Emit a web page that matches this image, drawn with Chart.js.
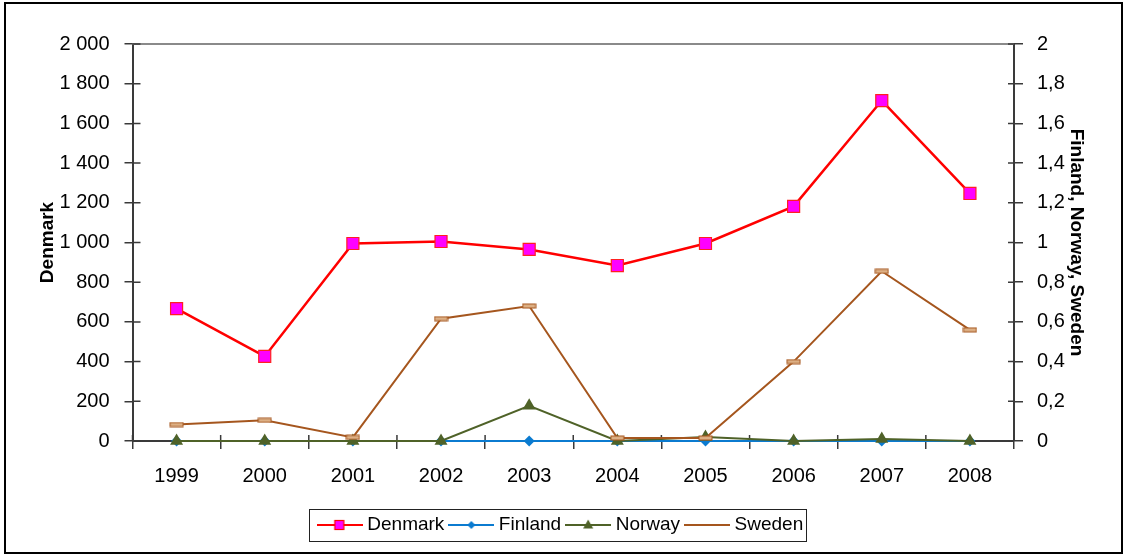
<!DOCTYPE html>
<html>
<head>
<meta charset="utf-8">
<script src="https://cdn.jsdelivr.net/npm/chart.js@4.4.1/dist/chart.umd.min.js"></script>
<style>
  body { margin: 0; background: #fff; }
  #wrap { width: 1125px; height: 557px; }
</style>
</head>
<body>
<div id="wrap"><canvas id="myChart" width="1125" height="557"></canvas></div>
<script>
// values
var years = ['1999', '2000', '2001', '2002', '2003', '2004', '2005', '2006', '2007', '2008'];
var denmark = [667, 426, 995, 1005, 965, 884, 995, 1182, 1715, 1247];
var finland = [0, 0, 0, 0, 0, 0, 0, 0, 0, 0];
var norway = [0, 0, 0, 0, 0.177, 0, 0.02, 0, 0.01, 0];
var sweden = [0.083, 0.104, 0.018, 0.616, 0.68, 0.015, 0.015, 0.40, 0.855, 0.56];

var seriesNames = ['Denmark', 'Finland', 'Norway', 'Sweden'];
var seriesColors = ['#FF0000', '#0B7BD0', '#4F6228', '#A5561E'];

var axisColor = '#3a3a3a';
var tickFont = { family: 'Liberation Sans, Arial, sans-serif', size: 20 };
var titleFont = { family: 'Liberation Sans, Arial, sans-serif', size: 19, weight: 'bold' };

// small flat marker used for Sweden
function swedenMarker() {
  var c = document.createElement('canvas');
  c.width = 15; c.height = 6;
  var g = c.getContext('2d');
  g.fillStyle = '#DDB085';
  g.fillRect(1, 1, 13, 4);
  g.strokeStyle = '#A5561E';
  g.lineWidth = 1;
  g.strokeRect(1, 1, 13, 4);
  return c;
}

// legend sample: line with its marker
function legendSample(i) {
  var c = document.createElement('canvas');
  c.width = 46; c.height = 16;
  var g = c.getContext('2d');
  g.strokeStyle = seriesColors[i];
  g.lineWidth = 2;
  g.beginPath(); g.moveTo(0, 8); g.lineTo(46, 8); g.stroke();
  if (i == 0) {
    g.fillStyle = '#FF00FF';
    g.fillRect(18, 3.5, 9, 9);
    g.lineWidth = 1.2;
    g.strokeRect(18, 3.5, 9, 9);
  } else if (i == 1) {
    g.fillStyle = seriesColors[1];
    g.beginPath(); g.moveTo(23, 4); g.lineTo(27, 8); g.lineTo(23, 12); g.lineTo(19, 8); g.closePath(); g.fill();
  } else if (i == 2) {
    g.fillStyle = seriesColors[2];
    g.beginPath(); g.moveTo(23, 2.5); g.lineTo(28, 11.5); g.lineTo(18, 11.5); g.closePath(); g.fill();
  }
  return c;
}

var samples = [legendSample(0), legendSample(1), legendSample(2), legendSample(3)];

var axisExtras = {
  id: 'axisExtras',
  beforeDatasetsDraw: function(chart) {
    var ctx = chart.ctx, a = chart.chartArea;
    ctx.save();
    // grey top edge of the plot area
    ctx.strokeStyle = '#8a8a8a';
    ctx.lineWidth = 2;
    ctx.beginPath(); ctx.moveTo(a.left, a.top); ctx.lineTo(a.right, a.top); ctx.stroke();
    // tick marks crossing into the plot
    ctx.strokeStyle = axisColor;
    ctx.lineWidth = 1.5;
    ctx.beginPath();
    chart.scales.y.ticks.forEach(function(t) {
      var py = chart.scales.y.getPixelForValue(t.value);
      ctx.moveTo(a.left, py); ctx.lineTo(a.left + 8, py);
    });
    chart.scales.y1.ticks.forEach(function(t) {
      var py = chart.scales.y1.getPixelForValue(t.value);
      ctx.moveTo(a.right - 6, py); ctx.lineTo(a.right, py);
    });
    var step = (a.right - a.left) / years.length;
    for (var i = 0; i <= years.length; i++) {
      var px = a.left + i * step;
      ctx.moveTo(px, a.bottom); ctx.lineTo(px, a.bottom - 6);
    }
    ctx.stroke();
    ctx.restore();
  },
  afterDraw: function(chart) {
    var ctx = chart.ctx;
    ctx.save();
    // legend frame
    var hb = chart.legend.legendHitBoxes;
    if (hb && hb.length) {
      var l = hb[0].left, r = hb[hb.length - 1].left + hb[hb.length - 1].width;
      var t = hb[0].top;
      ctx.strokeStyle = '#222';
      ctx.lineWidth = 1;
      ctx.strokeRect(Math.round(l - 13) + 0.5, Math.round(t - 7) + 0.5, Math.round(r - l + 16), 32);
    }
    // outer frame
    ctx.strokeStyle = '#000';
    ctx.lineWidth = 2;
    ctx.strokeRect(5, 3, 1117, 550);
    ctx.restore();
  }
};

const el = document.getElementById('myChart');

new Chart(el, {
  type: 'line',
  data: {
    labels: years,
    datasets: [{
      label: seriesNames[0],
      data: denmark,
      yAxisID: 'y',
      borderColor: seriesColors[0],
      borderWidth: 2.5,
      pointStyle: 'rect',
      pointRadius: 8.5,
      pointBackgroundColor: '#FF00FF',
      pointBorderColor: '#FF2020',
      pointBorderWidth: 1.2,
      clip: false,
      order: 4
    }, {
      label: seriesNames[1],
      data: finland,
      yAxisID: 'y1',
      borderColor: seriesColors[1],
      borderWidth: 2,
      pointStyle: 'rectRot',
      pointRadius: 5.5,
      pointBackgroundColor: seriesColors[1],
      pointBorderColor: seriesColors[1],
      pointBorderWidth: 0,
      clip: false,
      order: 3
    }, {
      label: seriesNames[2],
      data: norway,
      yAxisID: 'y1',
      borderColor: seriesColors[2],
      borderWidth: 2,
      pointStyle: 'triangle',
      pointRadius: 7.5,
      pointBackgroundColor: seriesColors[2],
      pointBorderColor: seriesColors[2],
      pointBorderWidth: 0,
      clip: false,
      order: 2
    }, {
      label: seriesNames[3],
      data: sweden,
      yAxisID: 'y1',
      borderColor: seriesColors[3],
      borderWidth: 2,
      pointStyle: swedenMarker(),
      pointRadius: 5,
      clip: false,
      order: 1
    }]
  },
  options: {
    responsive: false,
    animation: false,
    events: [],
    layout: { padding: { left: 25, right: 25, top: 44, bottom: 12.5 } },
    elements: { line: { tension: 0 } },
    plugins: {
      tooltip: { enabled: false },
      legend: {
        position: 'bottom',
        labels: {
          usePointStyle: true,
          pointStyleWidth: 36,
          padding: 9,
          color: '#000',
          font: { family: 'Liberation Sans, Arial, sans-serif', size: 19 },
          generateLabels: function(chart) {
            return chart.data.datasets.map(function(ds, i) {
              return {
                text: ds.label,
                pointStyle: samples[i],
                datasetIndex: i,
                fillStyle: seriesColors[i],
                strokeStyle: seriesColors[i],
                lineWidth: 0,
                hidden: false,
                fontColor: '#000'
              };
            });
          }
        }
      }
    },
    scales: {
      x: {
        offset: true,
        afterFit: function(scale) { scale.height = 65.5; },
        grid: { offset: true, drawOnChartArea: false, drawTicks: true, tickLength: 8, color: axisColor, lineWidth: 1.5 },
        border: { display: true, color: axisColor, width: 2 },
        ticks: { color: '#000', font: tickFont, padding: 15, maxRotation: 0 }
      },
      y: {
        position: 'left',
        min: 0,
        max: 2000,
        afterFit: function(scale) { scale.width = 107.5; },
        grid: { drawOnChartArea: false, drawTicks: true, tickLength: 8, color: axisColor, lineWidth: 1.5 },
        border: { display: true, color: axisColor, width: 2 },
        ticks: {
          stepSize: 200,
          color: '#000',
          font: tickFont,
          padding: 15,
          callback: function(v) {
            if (v >= 1000) return Math.floor(v / 1000) + ' ' + String(v % 1000).padStart(3, '0');
            return String(v);
          }
        },
        title: { display: true, text: 'Denmark', color: '#000', font: titleFont, padding: { top: 11, bottom: 0 } }
      },
      y1: {
        position: 'right',
        min: 0,
        max: 2,
        afterFit: function(scale) { scale.width = 86; },
        grid: { drawOnChartArea: false, drawTicks: true, tickLength: 9, color: axisColor, lineWidth: 1.5 },
        border: { display: true, color: axisColor, width: 2 },
        ticks: {
          stepSize: 0.2,
          color: '#000',
          font: tickFont,
          padding: 14,
          callback: function(v) {
            var s = (Math.round(v * 10) / 10).toString();
            return s.replace('.', ',');
          }
        },
        title: { display: true, text: 'Finland, Norway, Sweden', color: '#000', font: titleFont, padding: { top: 12, bottom: 0 } }
      }
    }
  },
  plugins: [axisExtras]
});
</script>
</body>
</html>
